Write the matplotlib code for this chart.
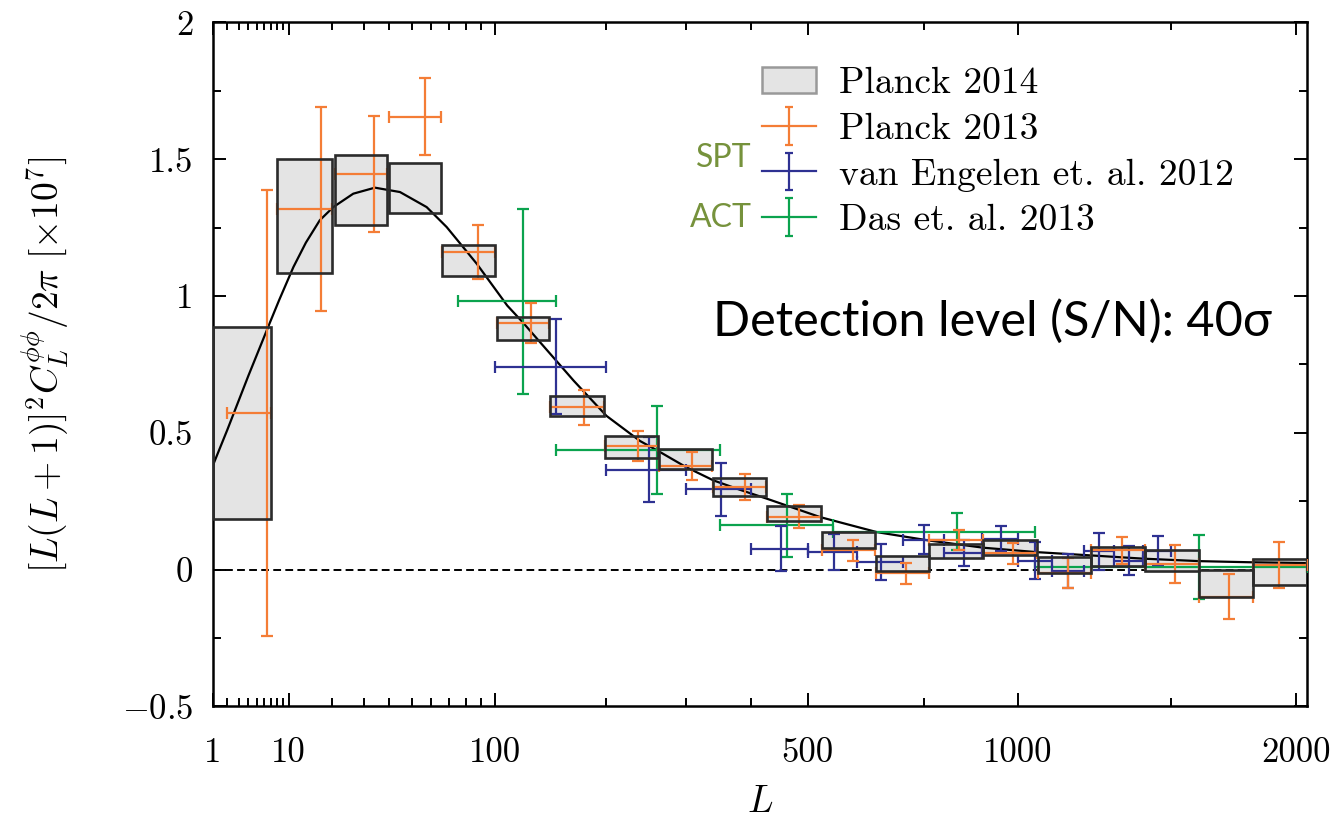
import numpy as np
import matplotlib
matplotlib.use("Agg")
import matplotlib.pyplot as plt
from matplotlib.patches import Patch

# ------------------ DATA ------------------
# Planck 2014 bandpowers (shaded boxes): bin edges in L and the band low/high
p14_lmin = [1, 8, 21, 40, 66, 101, 145, 199, 264, 339, 426, 527, 639, 764, 903, 1057, 1222, 1406, 1605, 1819]
p14_lmax = [7, 20, 39, 65, 100, 144, 198, 263, 338, 425, 526, 638, 763, 902, 1056, 1221, 1405, 1604, 1818, 2048]
p14_lo = [0.184, 1.085, 1.258, 1.302, 1.073, 0.841, 0.560, 0.409, 0.366, 0.269, 0.177, 0.080, -0.004,
          0.042, 0.052, -0.012, 0.012, -0.005, -0.100, -0.057]
p14_hi = [0.887, 1.499, 1.517, 1.485, 1.185, 0.922, 0.635, 0.488, 0.440, 0.336, 0.234, 0.136, 0.051,
          0.093, 0.110, 0.046, 0.083, 0.073, -0.003, 0.038]

# Planck 2013
p13_lc = [6.4, 17.1, 33.7, 56.6, 88.3, 128, 177.5, 237.8, 308.2, 389.5, 483.8, 590, 708, 839.5, 986,
          1150.6, 1325, 1514, 1722, 1928]
p13_lmin = [2, 8, 21, 40, 66, 101, 145, 199, 264, 339, 426, 527, 639, 764, 903, 1057, 1222, 1406, 1605, 1819]
p13_lmax = [7, 20, 39, 65, 100, 144, 198, 263, 338, 425, 526, 638, 763, 902, 1056, 1221, 1405, 1604, 1818, 2048]
p13_val = [0.572, 1.318, 1.447, 1.656, 1.160, 0.901, 0.593, 0.452, 0.378, 0.302, 0.194, 0.070, -0.014,
           0.108, 0.060, -0.014, 0.070, 0.020, -0.099, 0.016]
p13_err = [0.816, 0.373, 0.212, 0.142, 0.099, 0.073, 0.063, 0.055, 0.052, 0.046, 0.042, 0.040, 0.038,
           0.038, 0.038, 0.055, 0.049, 0.069, 0.082, 0.085]

# SPT, van Engelen et al. 2012
spt_lc = [150, 251, 351, 451, 551, 651, 751, 851, 951, 1050, 1150, 1250, 1350, 1450]
spt_lmin = [100, 200, 300, 400, 500, 600, 700, 800, 900, 1000, 1100, 1200, 1300, 1400]
spt_lmax = [200, 300, 400, 500, 600, 700, 800, 900, 1000, 1100, 1200, 1300, 1400, 1500]
spt_val = [0.742, 0.365, 0.293, 0.077, 0.064, 0.028, 0.109, 0.061, 0.113, 0.033, -0.005, 0.067, 0.032, 0.069]
spt_err = [0.175, 0.118, 0.098, 0.083, 0.065, 0.067, 0.053, 0.046, 0.046, 0.068, 0.063, 0.067, 0.053, 0.053]

# ACT, Das et al. 2013
act_lc = [121, 261, 461, 833, 1605]
act_lmin = [75, 150, 350, 550, 1050]
act_lmax = [150, 350, 550, 1050, 2050]
act_val = [0.980, 0.438, 0.162, 0.139, 0.010]
act_err = [0.339, 0.161, 0.116, 0.068, 0.116]

# fiducial LCDM lensing spectrum
theory_L = [1, 2, 4, 6.8, 8.3, 10.9, 13.5, 16.8, 20.4, 26.5, 34.2, 44.6, 57.5, 68.5, 87.2, 109, 121, 136,
            167, 201, 240, 265, 300, 340, 381, 425, 524, 642, 760, 903, 1053, 1221, 1400, 1605, 1800, 2048]
theory_y = [0.379, 0.511, 0.708, 0.901, 0.985, 1.106, 1.195, 1.277, 1.325, 1.374, 1.396, 1.380, 1.325,
            1.252, 1.118, 0.965, 0.905, 0.830, 0.690, 0.562, 0.470, 0.430, 0.375, 0.326, 0.292, 0.260,
            0.192, 0.137, 0.107, 0.080, 0.064, 0.052, 0.040, 0.031, 0.027, 0.024]

x_major = [1, 10, 100, 500, 1000, 2000]
x_minor = [2, 3, 4, 5, 6, 7, 8, 9, 20, 30, 40, 50, 60, 70, 80, 90, 200, 300, 400, 750, 1500]
y_major = [-0.5, 0, 0.5, 1, 1.5, 2]
y_labels = [r"$-0.5$", "0", "0.5", "1", "1.5", "2"]

ORANGE = "#f47d36"
BLUE = "#2e3192"
GREEN = "#0ba34e"
OLIVE = "#76923c"
BOXFILL = "#e4e4e4"

# ------------------ STYLE ------------------
plt.rcParams["font.family"] = "serif"
plt.rcParams["font.serif"] = ["cmr10"]
plt.rcParams["mathtext.fontset"] = "cm"
plt.rcParams["axes.formatter.use_mathtext"] = True


# x axis runs as (L + 1/2)^0.4
def fwd(L):
    return np.power(np.clip(L, 0, None) + 0.5, 0.4)


def inv(u):
    return np.power(np.clip(u, 0, None), 2.5) - 0.5


fig = plt.figure(figsize=(13.36, 8.24), dpi=100)
ax = fig.add_axes([0.1592, 0.1427, 0.8191, 0.8301])
ax.set_xscale("function", functions=(fwd, inv))
ax.set_xlim(1, 2048)
ax.set_ylim(-0.5, 2)

# Planck 2014 boxes: fill underneath, outline on top of the crosses
lo = np.array(p14_lo)
hi = np.array(p14_hi)
widths = np.array(p14_lmax) - np.array(p14_lmin)
ax.bar(p14_lmin, hi - lo, width=widths, bottom=lo, align="edge",
       facecolor=BOXFILL, edgecolor="none", zorder=2)
ax.bar(p14_lmin, hi - lo, width=widths, bottom=lo, align="edge",
       facecolor="none", edgecolor="#2b2b2b", linewidth=1.9, zorder=5)

ax.axhline(0, color="black", lw=1.4, ls=(0, (4, 2.2)), zorder=1)
ax.plot(theory_L, theory_y, color="black", lw=1.6, zorder=3)


def crosses(lc, lmin, lmax, val, err, color):
    lc = np.array(lc, dtype=float)
    xerr = [lc - np.array(lmin), np.array(lmax) - lc]
    ax.errorbar(lc, val, yerr=err, xerr=xerr, fmt="none", ecolor=color, elinewidth=1.6,
                capsize=4.5, capthick=1.6, zorder=4)


crosses(act_lc, act_lmin, act_lmax, act_val, act_err, GREEN)
crosses(spt_lc, spt_lmin, spt_lmax, spt_val, spt_err, BLUE)
crosses(p13_lc, p13_lmin, p13_lmax, p13_val, p13_err, ORANGE)

# ticks
ax.set_xticks(x_major)
ax.set_xticklabels([str(v) for v in x_major])
ax.set_xticks(x_minor, minor=True)
ax.set_yticks(y_major)
ax.set_yticklabels(y_labels)
ax.set_yticks(np.arange(-0.5, 2.01, 0.25), minor=True)
ax.tick_params(which="both", direction="in", top=True, right=True, width=1.4, labelsize=25)
ax.tick_params(which="major", length=9.5)
ax.tick_params(which="minor", length=6)
ax.tick_params(axis="x", which="major", pad=22)
ax.tick_params(axis="y", which="major", pad=14)
for s in ax.spines.values():
    s.set_linewidth(1.8)

ax.set_xlabel(r"$L$", fontsize=27, labelpad=12)
ax.set_ylabel(r"$[L(L+1)]^2C_L^{\phi\phi}/2\pi\ [\times 10^7]$", fontsize=27, labelpad=36)

# legend with proxy handles
h14 = Patch(facecolor=BOXFILL, edgecolor="#999999", linewidth=1.8)
proxy = dict(fmt="-", lw=1.6, capsize=3, capthick=1.6)
h13 = ax.errorbar([np.nan], [np.nan], yerr=[np.nan], color=ORANGE, **proxy)
hspt = ax.errorbar([np.nan], [np.nan], yerr=[np.nan], color=BLUE, **proxy)
hact = ax.errorbar([np.nan], [np.nan], yerr=[np.nan], color=GREEN, **proxy)
ax.legend([h14, h13, hspt, hact],
          ["Planck 2014", "Planck 2013", "van Engelen et. al. 2012", "Das et. al. 2013"],
          loc="upper left", bbox_to_anchor=(762 / 1336, 1 - 67 / 824), bbox_transform=fig.transFigure,
          frameon=False, fontsize=27, handlelength=1.45, handletextpad=0.6, labelspacing=0.33,
          borderpad=0, borderaxespad=0)

fig.text(752 / 1336, 1 - 158 / 824, "SPT", ha="right", va="center", fontsize=23, color=OLIVE,
         family="Lato")
fig.text(752 / 1336, 1 - 218 / 824, "ACT", ha="right", va="center", fontsize=23, color=OLIVE,
         family="Lato")
fig.text(713 / 1336, 1 - 321 / 824, "Detection level (S/N): 40σ", ha="left", va="center",
         fontsize=35, color="black", family="Lato")

fig.savefig("out.png", dpi=100)
